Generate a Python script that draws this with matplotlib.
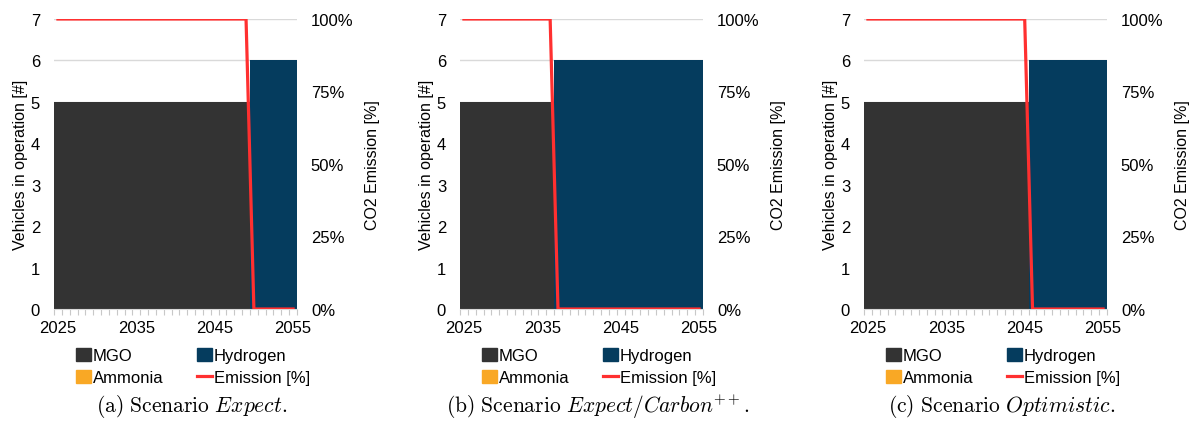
import numpy as np
import matplotlib.pyplot as plt
from matplotlib.patches import Patch
from matplotlib.lines import Line2D
from matplotlib.ticker import PercentFormatter

plt.rcParams['font.family'] = ['Liberation Sans', 'DejaVu Sans']
plt.rcParams['mathtext.fontset'] = 'cm'

years = list(range(2025, 2056))
year_labels = ['2025', '2035', '2045', '2055']

# last year with MGO vessels in each scenario
mgo_expect = [5] * 25 + [0] * 6
h2_expect = [0] * 25 + [6] * 6
nh3_expect = [0] * 31
em_expect = [1.0] * 25 + [0.0] * 6

mgo_carbon = [5] * 12 + [0] * 19
h2_carbon = [0] * 12 + [6] * 19
nh3_carbon = [0] * 31
em_carbon = [1.0] * 12 + [0.0] * 19

mgo_optim = [5] * 21 + [0] * 10
h2_optim = [0] * 21 + [6] * 10
nh3_optim = [0] * 31
em_optim = [1.0] * 21 + [0.0] * 10

captions = [r'$\mathrm{(a)\ Scenario\ }\mathit{Expect}\mathrm{.}$',
            r'$\mathrm{(b)\ Scenario\ }\mathit{Expect/Carbon}^{++}\mathrm{.}$',
            r'$\mathrm{(c)\ Scenario\ }\mathit{Optimistic}\mathrm{.}$']

c_mgo = '#333333'
c_h2 = '#053c5e'
c_nh3 = '#f9a825'
c_em = '#ff3030'

W, H = 1191, 431
fig = plt.figure(figsize=(W / 100, H / 100), dpi=100)

panels = [(mgo_expect, h2_expect, nh3_expect, em_expect),
          (mgo_carbon, h2_carbon, nh3_carbon, em_carbon),
          (mgo_optim, h2_optim, nh3_optim, em_optim)]
lefts = [54, 460, 864]

for k, (mgo, h2, nh3, em) in enumerate(panels):
    x0 = lefts[k]
    ax = fig.add_axes([x0 / W, 121 / H, 243 / W, 290 / H])
    idx = np.arange(len(years))
    mgo = np.array(mgo)
    h2 = np.array(h2)
    nh3 = np.array(nh3)
    ax.bar(idx, mgo, width=1.0, color=c_mgo, linewidth=0, zorder=2)
    ax.bar(idx, h2, width=1.0, bottom=mgo, color=c_h2, linewidth=0, zorder=2)
    ax.bar(idx, nh3, width=1.0, bottom=mgo + h2, color=c_nh3, linewidth=0, zorder=2)

    ax.set_xlim(-0.5, len(years) - 0.5)
    ax.set_ylim(0, 7)
    ax.set_yticks(range(8))
    ax.grid(axis='y', color='#d9d9d9', linewidth=1, zorder=0)
    ax.set_axisbelow(True)
    ax.set_xticks([years.index(int(y)) for y in year_labels])
    ax.set_xticklabels(year_labels)
    ax.set_xticks(np.arange(-0.5, len(years)), minor=True)
    ax.tick_params(axis='x', which='major', length=0, pad=8, labelsize=12)
    ax.tick_params(axis='x', which='minor', length=4, color='#c8c8c8', width=0.8)
    ax.tick_params(axis='y', length=0, pad=10, labelsize=12)
    for s in ['top', 'left', 'right']:
        ax.spines[s].set_visible(False)
    ax.spines['bottom'].set_color('#d9d9d9')
    ax.set_ylabel('Vehicles in operation [#]', fontsize=11.5, labelpad=2)

    ax2 = ax.twinx()
    ax2.plot(idx, em, color=c_em, linewidth=2.3, zorder=3)
    ax2.set_ylim(0, 1)
    ax2.set_yticks([0, 0.25, 0.5, 0.75, 1.0])
    ax2.yaxis.set_major_formatter(PercentFormatter(1.0, decimals=0))
    ax2.tick_params(axis='y', length=0, pad=10, labelsize=12)
    for s in ax2.spines.values():
        s.set_visible(False)
    ax2.set_ylabel('CO2 Emission [%]', fontsize=11.5, labelpad=8)

    handles = [Patch(color=c_mgo, label='MGO'),
               Patch(color=c_nh3, label='Ammonia'),
               Patch(color=c_h2, label='Hydrogen'),
               Line2D([], [], color=c_em, linewidth=2.3, label='Emission [%]')]
    ax.legend(handles=handles, ncol=2, frameon=False, fontsize=12,
              loc='upper left', bbox_to_anchor=(22 / 243, -0.135),
              handlelength=0.9, handleheight=0.8, handletextpad=0.12,
              columnspacing=2.0, labelspacing=0.4, borderaxespad=0, borderpad=0)

    fig.text((x0 + 138) / W, 1 - 407 / H, captions[k], fontsize=15.5,
             ha='center', va='center')

fig.savefig('out.png', dpi=100)
